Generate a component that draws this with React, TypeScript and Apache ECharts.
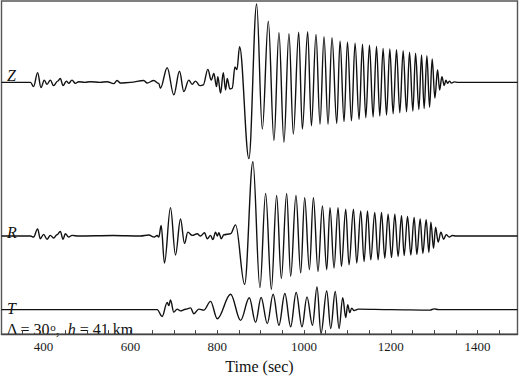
import React, { useEffect, useRef } from "react";
import * as echarts from "echarts";

// Traces: extrema (time in sec, amplitude in plot units, up positive)
const zTimes = [303, 370, 376.9, 386.2, 394, 401.6, 407.8, 415.5, 423.1, 432.3, 438.5, 444.8, 452.4, 457.7, 465.5, 473.2, 480.8, 495, 507.8, 530, 546.3, 561.5, 569.4, 577, 600, 630.8, 638.6, 653.8, 665.4, 669.2, 684.8, 700, 713.2, 723.1, 734.6, 742.4, 750.1, 760, 767.8, 778.5, 786.3, 792.3, 798.5, 801.5, 807.8, 814, 819.3, 823.2, 829.2, 834.8, 840.8, 845.5, 851.6, 873.1, 890.9, 904, 917.8, 930.8, 942.3, 953.8, 965.4, 975.5, 987.8, 996.3, 1008.5, 1017.1, 1027.7, 1036.9, 1046.2, 1055.4, 1064.6, 1075.5, 1083.1, 1092.3, 1100.2, 1109.4, 1117.7, 1126.9, 1134.8, 1142.4, 1150.9, 1159.2, 1167.1, 1174.7, 1182.3, 1190.2, 1197.8, 1205.4, 1213.2, 1220.8, 1228.5, 1236.3, 1243.2, 1250.9, 1257.1, 1264.7, 1270.9, 1276.9, 1283.2, 1289.4, 1295.4, 1301.6, 1307.8, 1312.5, 1317.8, 1323.1, 1327, 1330.9, 1335, 1340, 1346, 1355, 1492];
const zAmps = [0, 0, -4.3, 10, -5.3, 2.3, -2, 2.3, -3.3, 1.3, 4, -3.3, 1.3, -1, 2.3, -1, 0.7, 0, 0.7, 0, 0.7, -1.3, 2, -0.7, 0, 2, -0.7, 2, -1, -6, 15, -12.7, 11.3, -9.3, 2.3, -2, 1.3, -3.3, -2.7, 13.3, 2.3, 9, -4.3, 5.7, -11, 10, -7.7, 4, -6.7, -6, 15.7, 13, 36.3, -77.7, 80, -47.7, 62.3, -59.3, 50.7, -61, 49.7, -52.7, 51.3, -47.7, 51.7, -44.3, 49, -42.7, 46.7, -42.7, 45.7, -42, 42.3, -40, 41.3, -39.3, 40, -37.7, 39, -36, 38, -35.3, 36.7, -34.3, 34.7, -33.3, 34, -32, 33.3, -31, 32.3, -30, 30.7, -29.3, 29.7, -27.7, 28, -26.7, 27.3, -25.3, 24, -16, 13, -7.7, 5.7, -3.3, 2.3, -1, 1.3, -0.7, 0.5, 0, 0];

const rTimes = [303, 370, 376.9, 386.2, 392.4, 400, 407.8, 415.5, 423.1, 430.9, 438.5, 444.8, 450.1, 457.7, 465.5, 480, 560, 623.1, 642.3, 655, 661.7, 665.4, 670.9, 678.5, 692.4, 703.9, 715.5, 724.7, 732.3, 742.4, 754, 761.6, 770.8, 777.1, 784.7, 790, 796.2, 800.2, 803.8, 809.4, 815.4, 830.8, 842.4, 863.2, 882.3, 898.5, 911.6, 924.8, 937, 947.8, 960.1, 969.3, 981.5, 992.4, 1001.6, 1012.5, 1021.7, 1032.3, 1042.5, 1052.4, 1060, 1069.2, 1078.5, 1086.3, 1096.2, 1103.8, 1114, 1121.6, 1130.8, 1138.5, 1146.3, 1153.9, 1163.1, 1170.8, 1178.6, 1186.2, 1193.8, 1201.7, 1209.3, 1216.9, 1224.8, 1230.8, 1238.6, 1246.2, 1253.8, 1260.1, 1267.7, 1273.9, 1281.5, 1287.8, 1292.4, 1298.6, 1303.2, 1309.2, 1315.5, 1321.7, 1327.7, 1334.6, 1342, 1350, 1492];
const rAmps = [0, 0, -1, 7.3, -2.7, 1.7, -3.3, 0.7, -2, 1.3, 4.7, -3.3, 2.3, -1, 0.7, 0, 0.5, 0, 1, -1, 0.5, -1, 10.7, -27.6, 29, -19.3, 17.4, -7.6, 4, 0.7, 2.3, 0, 3.3, -2.7, 0.7, -3.7, 4, 0, 3.3, -2.7, 1.3, 2.3, 11.4, -49.3, 75.7, -52.6, 43.4, -54.3, 41.4, -43.3, 43.4, -41, 41.4, -37.6, 39, -34.3, 39, -36, 30.7, -34.3, 29, -32.6, 29, -31, 27.4, -29.3, 27.4, -27.6, 25.7, -26, 25.7, -24.3, 24, -24.3, 24, -22.6, 22.4, -22, 22.4, -21, 20.7, -20, 20, -19.3, 19, -18.6, 17.4, -17.6, 16.7, -16.6, 14, -12.6, 9, -6, 4, -3.3, 1.4, -1, 0.5, 0, 0];

const tTimes = [303, 661.7, 673.2, 684.8, 688.5, 692.4, 700, 707.8, 715.5, 727, 738.5, 746.2, 757.7, 769.2, 784.7, 800.2, 830.9, 853.9, 874, 888.5, 901.2, 915.5, 928.9, 942.3, 955.9, 969.3, 982, 995.4, 1006.9, 1019.6, 1030, 1039.2, 1052.4, 1061.6, 1072, 1080.8, 1089.3, 1096.2, 1100.8, 1105.5, 1110, 1115.4, 1125, 1200, 1290, 1300, 1310, 1492];
const tAmps = [0, 0, -7, 7.4, 4, 9.7, -2.6, 0.5, -1.3, 0.3, 1.7, -4.3, 0.5, -0.5, 8.4, -9.3, 15.7, -11, 12, -13, 12.4, -14.3, 15.7, -16, 16.4, -17.6, 17.4, -17.6, 13, -16, 23, -24.3, 19, -19.3, 18.4, -19.3, 12, -8, 5, -3, 1.5, -1, 0.5, 0, -0.5, 0.7, 0, 0];

const traceNames = ["Z", "R", "T"];
const traceBaselines = [256.7, 100, 25];
const tickValues = [350, 400, 450, 500, 550, 600, 650, 700, 750, 800, 850, 900, 950, 1000, 1050, 1100, 1150, 1200, 1250, 1300, 1350, 1400, 1450];
const labelValues = [400, 600, 800, 1000, 1200, 1400];

const SERIF = "Liberation Serif";

function toPairs(times: number[], amps: number[], base: number) {
  return times.map((t, i) => [t, base + amps[i]]);
}

function label(text: string, x: number, y: number) {
  return {
    type: "text",
    x,
    y,
    style: {
      text,
      fontFamily: SERIF,
      fontSize: 16,
      fontStyle: "italic",
      fill: "#111",
      verticalAlign: "middle",
    },
  };
}

export default function App() {
  const ref = useRef<HTMLDivElement>(null);
  useEffect(() => {
    if (!ref.current) return;
    const chart = echarts.init(ref.current, null, { renderer: "svg" });
    const traces = [
      toPairs(zTimes, zAmps, traceBaselines[0]),
      toPairs(rTimes, rAmps, traceBaselines[1]),
      toPairs(tTimes, tAmps, traceBaselines[2]),
    ];
    chart.setOption({
      animation: false,
      backgroundColor: "#fff",
      grid: {
        left: 1.5,
        right: 2.5,
        top: 1,
        bottom: 38.3,
        show: true,
        borderColor: "#555",
        borderWidth: 1.4,
      },
      xAxis: {
        type: "value",
        min: 303,
        max: 1492,
        name: "Time (sec)",
        nameLocation: "middle",
        nameGap: 21,
        nameTextStyle: { fontFamily: SERIF, fontSize: 16, color: "#111" },
        axisLine: { show: true, lineStyle: { color: "#444", width: 1.4 } },
        axisTick: {
          show: true,
          inside: true,
          length: 4,
          customValues: tickValues,
          lineStyle: { color: "#444", width: 1 },
        },
        axisLabel: {
          customValues: labelValues,
          formatter: (v: number) => String(v),
          fontFamily: SERIF,
          fontSize: 13,
          color: "#1a1a1a",
          margin: 6,
        },
        splitLine: { show: false },
      },
      yAxis: { type: "value", min: 0, max: 339.7, show: false },
      series: traces.map((d, i) => ({
        type: "line",
        name: traceNames[i],
        data: d,
        showSymbol: false,
        smooth: 0.36,
        smoothMonotone: "x",
        lineStyle: { color: "#111", width: 1.4 },
      })),
      graphic: [
        label("Z", 7, 75),
        label("R", 7, 232),
        label("T", 7, 308),
        {
          type: "text",
          x: 7,
          y: 329,
          style: {
            text: "{a|Δ = 30}{s|o}{a|,  }{i|h}{a| = 41 km}",
            verticalAlign: "middle",
            rich: {
              a: { fontFamily: SERIF, fontSize: 16, fill: "#111" },
              s: { fontFamily: SERIF, fontSize: 11, fill: "#111", verticalAlign: "top" },
              i: { fontFamily: SERIF, fontSize: 16, fontStyle: "italic", fill: "#111" },
            },
          },
        },
      ],
    });
    return () => chart.dispose();
  }, []);
  return (
    <div
      ref={ref}
      style={{ position: "fixed", left: 0, top: 0, width: 520, height: 379, background: "#fff" }}
    />
  );
}
